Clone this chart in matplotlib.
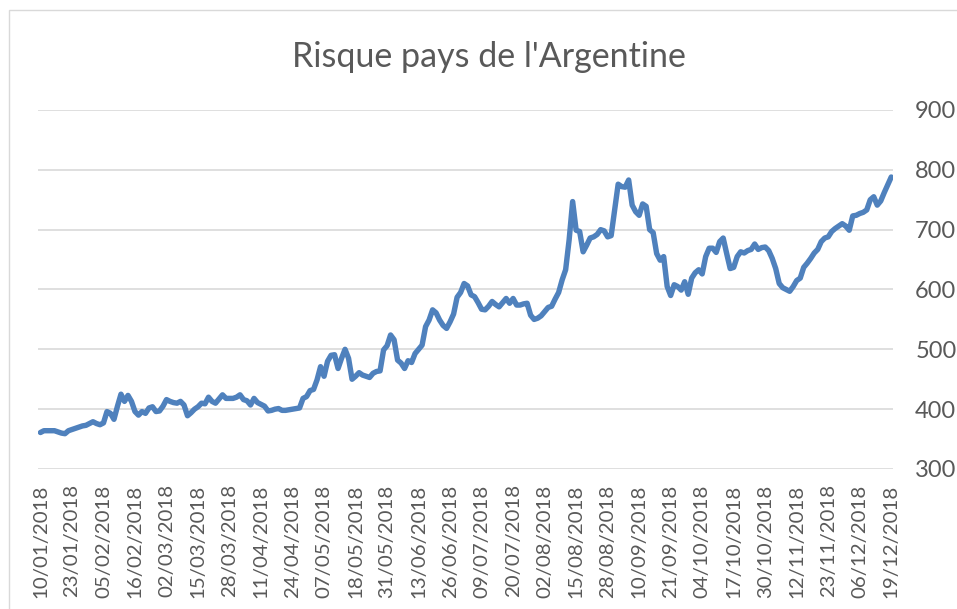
import matplotlib
matplotlib.use("Agg")
import matplotlib.pyplot as plt
from matplotlib.patches import Rectangle

# ---- data (EMBI spread, trading days) ----
tick_labels = ["10/01/2018", "23/01/2018", "05/02/2018", "16/02/2018", "02/03/2018",
               "15/03/2018", "28/03/2018", "11/04/2018", "24/04/2018", "07/05/2018",
               "18/05/2018", "31/05/2018", "13/06/2018", "26/06/2018", "09/07/2018",
               "20/07/2018", "02/08/2018", "15/08/2018", "28/08/2018", "10/09/2018",
               "21/09/2018", "04/10/2018", "17/10/2018", "30/10/2018", "12/11/2018",
               "23/11/2018", "06/12/2018", "19/12/2018"]
label_step = 9

values = [
    361, 364, 364, 364, 364, 362, 360, 359, 364, 366,
    368, 370, 372, 373, 376, 379, 376, 374, 377, 396,
    393, 383, 405, 425, 413, 423, 413, 396, 390, 396,
    393, 402, 404, 396, 397, 405, 416, 413, 411, 410,
    413, 407, 389, 394, 400, 404, 410, 409, 420, 413,
    410, 417, 424, 418, 418, 418, 420, 424, 416, 414,
    407, 418, 411, 408, 405, 397, 398, 400, 401, 398,
    398, 399, 400, 401, 402, 418, 421, 431, 433, 449,
    471, 455, 480, 490, 491, 468, 485, 500, 485, 450,
    455, 461, 457, 455, 453, 460, 463, 464, 499, 506,
    524, 516, 482, 477, 468, 481, 478, 493, 500, 507,
    538, 549, 566, 561, 549, 540, 535, 546, 559, 587,
    595, 610, 606, 591, 588, 578, 567, 566, 572, 580,
    575, 571, 578, 585, 577, 585, 574, 574, 576, 577,
    557, 550, 552, 556, 563, 570, 572, 584, 595, 616,
    633, 683, 747, 699, 697, 663, 674, 686, 688, 692,
    700, 698, 688, 690, 733, 776, 772, 771, 783, 741,
    730, 724, 743, 739, 700, 695, 660, 649, 655, 605,
    590, 608, 605, 599, 613, 592, 619, 628, 633, 626,
    655, 669, 669, 662, 680, 686, 660, 635, 637, 655,
    663, 661, 665, 667, 676, 667, 670, 671, 665, 652,
    635, 610, 603, 600, 597, 605, 615, 619, 637, 644,
    652, 661, 667, 680, 686, 688, 697, 702, 706, 710,
    706, 699, 723, 724, 727, 729, 733, 750, 755, 741,
    748, 762, 775, 788,
]
y_ticks = [300, 400, 500, 600, 700, 800, 900]
title = "Risque pays de l'Argentine"

# ---- figure ----
plt.rcParams['font.family'] = ['Lato', 'DejaVu Sans']
fig = plt.figure(figsize=(9.57, 6.09), dpi=100)
fig.patch.set_facecolor("white")

# chart-area border (left and top visible)
fig.patches.append(Rectangle((9/957, -0.1), 1.2, 1 - 10/609 + 0.1,
                             transform=fig.transFigure, fill=False,
                             edgecolor="#D9D9D9", linewidth=1.0))

ax = fig.add_axes([38/957, 1 - 469/609, (893 - 38)/957, (469 - 110)/609])
x = list(range(len(values)))
ax.plot(x, values, color="#4F81BD", linewidth=3.9,
        solid_joinstyle="round", solid_capstyle="round", zorder=3)

ax.set_xlim(-0.7, 243.5)
ax.set_ylim(300, 900)
ax.set_yticks(y_ticks)
ax.yaxis.tick_right()
ax.tick_params(axis="y", length=0, pad=16, labelsize=17, labelcolor="#595959")
ax.grid(axis="y", color="#D9D9D9", linewidth=1.2)
ax.set_axisbelow(True)

tick_pos = [i * label_step for i in range(len(tick_labels))]
ax.set_xticks(tick_pos)
ax.set_xticklabels(tick_labels, rotation=90)
ax.tick_params(axis="x", length=0, pad=11, labelsize=14.7, labelcolor="#595959")

for s in ax.spines.values():
    s.set_visible(False)

fig.text(489/957, 1 - 57/609, title, ha="center", va="center",
         fontsize=24.5, fontweight="normal", color="#595959")

fig.savefig("out.png", dpi=100, facecolor="white")
